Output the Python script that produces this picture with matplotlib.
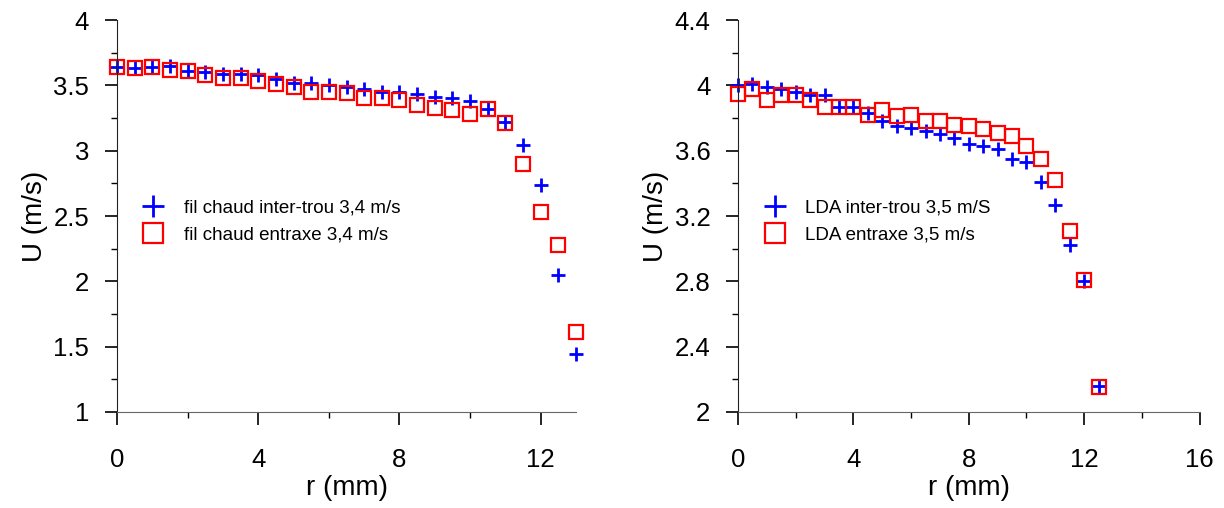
import matplotlib.pyplot as plt
from matplotlib.ticker import MultipleLocator

plt.rcParams['font.family'] = ['Liberation Sans', 'DejaVu Sans']

# left panel: hot wire
r_fil = [0, 0.5, 1, 1.5, 2, 2.5, 3, 3.5, 4, 4.5, 5, 5.5, 6, 6.5, 7, 7.5, 8, 8.5,
         9, 9.5, 10, 10.5, 11, 11.5, 12, 12.5, 13]
u_fil_intertrou = [3.64, 3.63, 3.64, 3.65, 3.61, 3.60, 3.59, 3.59, 3.58, 3.55, 3.52, 3.52,
                   3.50, 3.49, 3.47, 3.45, 3.45, 3.43, 3.41, 3.40, 3.38, 3.32, 3.22,
                   3.04, 2.74, 2.05, 1.44]
u_fil_entraxe = [3.64, 3.63, 3.64, 3.62, 3.61, 3.58, 3.56, 3.56, 3.53, 3.51, 3.49, 3.45,
                 3.45, 3.44, 3.40, 3.40, 3.39, 3.35, 3.33, 3.31, 3.28, 3.32, 3.21,
                 2.90, 2.53, 2.28, 1.61]

# right panel: LDA
r_lda = [0, 0.5, 1, 1.5, 2, 2.5, 3, 3.5, 4, 4.5, 5, 5.5, 6, 6.5, 7, 7.5, 8, 8.5,
         9, 9.5, 10, 10.5, 11, 11.5, 12, 12.5]
u_lda_intertrou = [4.00, 4.01, 3.99, 3.98, 3.96, 3.94, 3.94, 3.87, 3.87, 3.83, 3.78, 3.75,
                   3.74, 3.72, 3.70, 3.68, 3.64, 3.63, 3.61, 3.55, 3.53, 3.41, 3.27,
                   3.02, 2.80, 2.16]
u_lda_entraxe = [3.95, 3.98, 3.91, 3.94, 3.94, 3.91, 3.87, 3.87, 3.87, 3.82, 3.85, 3.81,
                 3.82, 3.78, 3.78, 3.76, 3.75, 3.73, 3.71, 3.69, 3.63, 3.55, 3.42,
                 3.11, 2.81, 2.15]

fig = plt.figure(figsize=(12.24, 5.08), dpi=100)
ax1 = fig.add_axes([0.0956, 0.189, 0.375, 0.7716])
ax2 = fig.add_axes([0.603, 0.189, 0.377, 0.7716])


def style(ax, xmax, ymin, ymax, ymaj, ymin_step):
    ax.set_xlim(0, xmax)
    ax.set_ylim(ymin, ymax)
    ax.xaxis.set_major_locator(MultipleLocator(4))
    ax.xaxis.set_minor_locator(MultipleLocator(2))
    ax.yaxis.set_major_locator(MultipleLocator(ymaj))
    ax.yaxis.set_minor_locator(MultipleLocator(ymin_step))
    for s in ['top', 'right']:
        ax.spines[s].set_visible(False)
    ax.spines['left'].set_color('#222222')
    ax.spines['bottom'].set_color('#666666')
    ax.tick_params(which='major', direction='out', length=9, width=1.2,
                   labelsize=18.5)
    ax.tick_params(axis='x', which='major', pad=17)
    ax.tick_params(axis='y', which='major', pad=11)
    ax.tick_params(which='minor', direction='out', length=4, width=1.0)
    ax.set_xlabel('r (mm)', fontsize=20, labelpad=2)
    ax.set_ylabel('U (m/s)', fontsize=20, labelpad=4)


leg_kw = dict(loc='upper left', bbox_to_anchor=(0.01, 0.585), frameon=False,
              fontsize=13.5, markerscale=1.5, handlelength=1.6,
              handletextpad=0.85, labelspacing=0.5)

ax1.plot(r_fil, u_fil_intertrou, linestyle='none', marker='+', ms=10.5, mew=2,
         color='#0000ff', label='fil chaud inter-trou 3,4 m/s', clip_on=False)
ax1.plot(r_fil, u_fil_entraxe, linestyle='none', marker='s', ms=9.5, mew=1.6,
         mfc='none', mec='#ff0000', label='fil chaud entraxe 3,4 m/s', clip_on=False)
style(ax1, 13, 1, 4, 0.5, 0.25)
ax1.set_yticks([1, 1.5, 2, 2.5, 3, 3.5, 4])
ax1.set_yticklabels(['1', '1.5', '2', '2.5', '3', '3.5', '4'])
ax1.legend(**leg_kw)

ax2.plot(r_lda, u_lda_intertrou, linestyle='none', marker='+', ms=10.5, mew=2,
         color='#0000ff', label='LDA inter-trou 3,5 m/S', clip_on=False)
ax2.plot(r_lda, u_lda_entraxe, linestyle='none', marker='s', ms=9.5, mew=1.6,
         mfc='none', mec='#ff0000', label='LDA entraxe 3,5 m/s', clip_on=False)
style(ax2, 16, 2, 4.4, 0.4, 0.2)
ax2.set_yticks([2, 2.4, 2.8, 3.2, 3.6, 4, 4.4])
ax2.set_yticklabels(['2', '2.4', '2.8', '3.2', '3.6', '4', '4.4'])
ax2.legend(**leg_kw)

fig.savefig('out.png', dpi=100)
